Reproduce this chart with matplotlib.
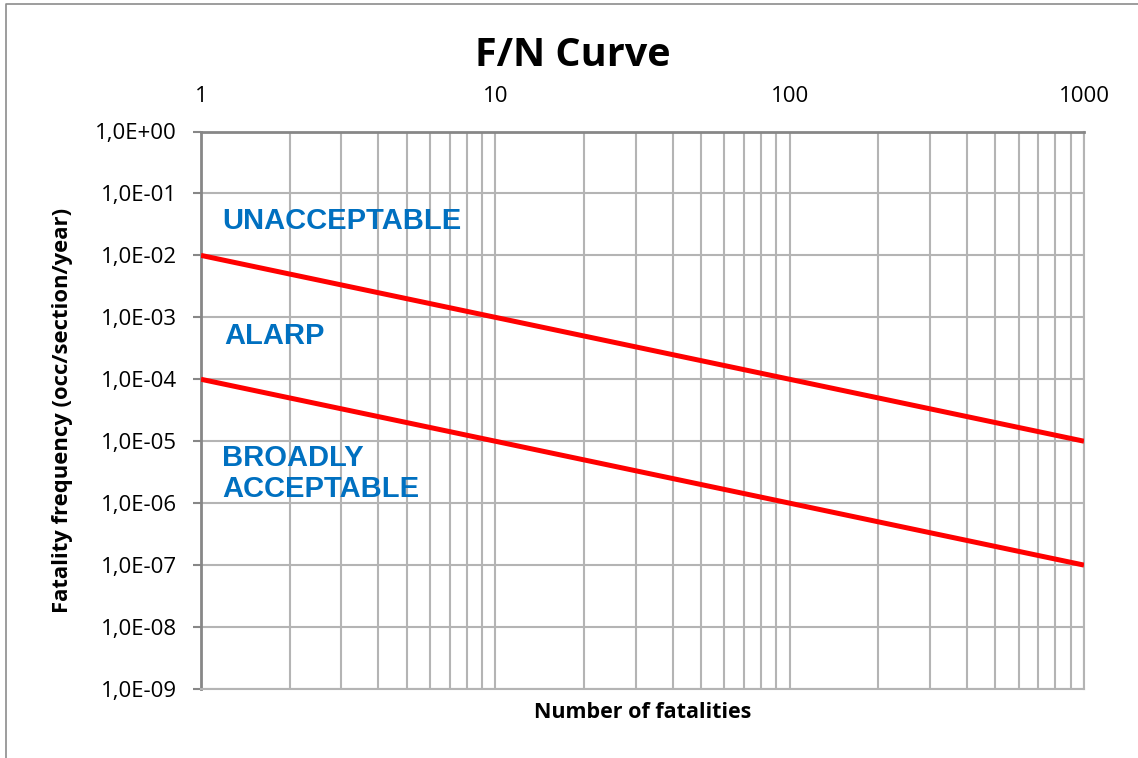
import matplotlib
matplotlib.use("Agg")
import matplotlib.pyplot as plt
from matplotlib.lines import Line2D
from matplotlib.ticker import FixedLocator, FixedFormatter, LogLocator, NullFormatter

# F/N criterion lines
fatalities = [1, 1000]
upper_limit = [1e-2, 1e-5]
lower_limit = [1e-4, 1e-7]

x_ticks = [1, 10, 100, 1000]
x_tick_labels = ["1", "10", "100", "1000"]
y_ticks = [1e0, 1e-1, 1e-2, 1e-3, 1e-4, 1e-5, 1e-6, 1e-7, 1e-8, 1e-9]
y_tick_labels = ["1,0E+00", "1,0E-01", "1,0E-02", "1,0E-03", "1,0E-04",
                 "1,0E-05", "1,0E-06", "1,0E-07", "1,0E-08", "1,0E-09"]

region_labels = ["UNACCEPTABLE", "ALARP", "BROADLY\nACCEPTABLE"]
region_x = [1.18, 1.2, 1.18]
region_y = [10 ** -1.445, 10 ** -3.30, 10 ** -5.52]

base_font = "Open Sans"
label_font = "Liberation Sans"
blue = "#0070C0"
grid_col = "#b4b4b4"
spine_col = "#878787"

W, H = 1138, 758
fig = plt.figure(figsize=(W / 100, H / 100), dpi=100)
ax_left, ax_right, ax_top, ax_bottom = 201, 1084, 131.5, 689
ax = fig.add_axes([ax_left / W, 1 - ax_bottom / H,
                   (ax_right - ax_left) / W, (ax_bottom - ax_top) / H])

ax.plot(fatalities, upper_limit, color="#FF0000", lw=3.6, solid_capstyle="butt", zorder=5)
ax.plot(fatalities, lower_limit, color="#FF0000", lw=3.6, solid_capstyle="butt", zorder=5)

ax.set_xscale("log")
ax.set_yscale("log")
ax.set_xlim(1, 1000)
ax.set_ylim(1e-9, 1e0)

# x axis labelled along the top
ax.xaxis.set_major_locator(FixedLocator(x_ticks))
ax.xaxis.set_major_formatter(FixedFormatter(x_tick_labels))
ax.xaxis.set_minor_locator(LogLocator(base=10, subs=range(2, 10)))
ax.xaxis.set_minor_formatter(NullFormatter())
ax.tick_params(axis="x", which="both", bottom=False, top=False, labelbottom=False,
               labeltop=True, length=0, pad=18, labelsize=16)
for t in ax.get_xticklabels():
    t.set_fontfamily(base_font)

ax.yaxis.set_major_locator(FixedLocator(y_ticks))
ax.yaxis.set_major_formatter(FixedFormatter(y_tick_labels))
ax.yaxis.set_minor_locator(FixedLocator([]))
ax.tick_params(axis="y", which="major", left=True, length=5.5, width=1.5,
               color=spine_col, pad=12, labelsize=16)
for t in ax.get_yticklabels():
    t.set_fontfamily(base_font)

ax.grid(True, which="major", axis="both", color=grid_col, lw=1.5)
ax.grid(True, which="minor", axis="x", color=grid_col, lw=1.5)
ax.set_axisbelow(True)

ax.spines["left"].set_color(spine_col)
ax.spines["left"].set_linewidth(2)
ax.spines["top"].set_color(spine_col)
ax.spines["top"].set_linewidth(2)
ax.spines["bottom"].set_color(grid_col)
ax.spines["bottom"].set_linewidth(1.5)
ax.spines["right"].set_color(grid_col)
ax.spines["right"].set_linewidth(1.5)

for txt, xv, yv in zip(region_labels, region_x, region_y):
    ax.text(xv, yv, txt, color=blue, fontsize=21, fontweight="bold",
            fontfamily=label_font, ha="left", va="center", linespacing=1.15, zorder=6)

ax_w = ax_right - ax_left
ax_h = ax_bottom - ax_top
ax.set_xlabel("Number of fatalities", fontsize=15.5, fontweight="bold", fontfamily=base_font)
ax.xaxis.set_label_coords(0.5, -(712 - ax_bottom) / ax_h)
ax.xaxis.label.set_va("center")
ax.set_ylabel("Fatality frequency (occ/section/year)", fontsize=15.8, fontweight="bold",
              fontfamily=base_font)
ax.yaxis.set_label_coords((63 - ax_left) / ax_w, 0.5)
ax.yaxis.label.set_va("center")
ax.yaxis.label.set_ha("center")

fig.text(573 / W, 1 - 55 / H, "F/N Curve", fontsize=28.5, fontweight="bold",
         fontfamily=base_font, ha="center", va="center")

# chart area frame
fig.add_artist(Line2D([6 / W, 6 / W, 1.0], [0.0, 1 - 4 / H, 1 - 4 / H],
                      transform=fig.transFigure, color="#8c8c8c", lw=1.2))

fig.savefig("out.png", dpi=100, facecolor="white")
